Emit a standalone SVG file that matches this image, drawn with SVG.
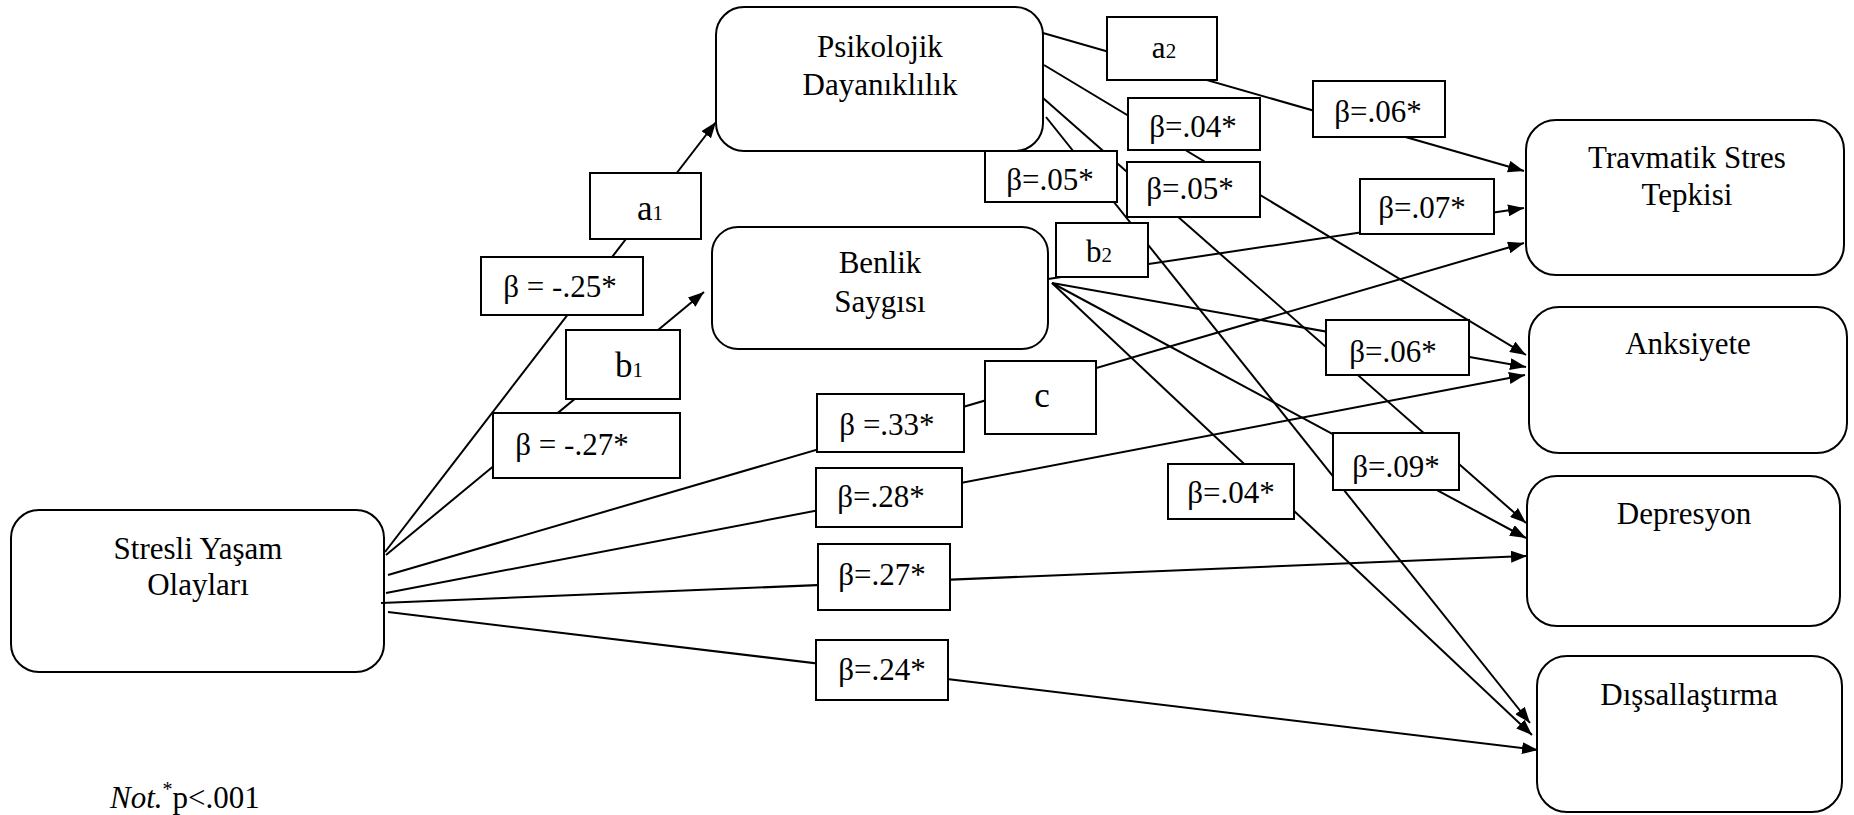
<svg xmlns="http://www.w3.org/2000/svg" width="1854" height="815" viewBox="0 0 1854 815">
<style>
  .node rect { fill: #fff; stroke: #000; stroke-width: 2; }
  .lbl rect { fill: #fff; stroke: #000; stroke-width: 2; }
  text { font-family: 'Liberation Serif', 'Times New Roman', Times, 'DejaVu Serif', serif; font-size: 31px; fill: #000; text-anchor: middle; }
  .big { font-size: 35px; }
  .sub { font-size: 21px; }
  #edges line { stroke: #000; stroke-width: 2; marker-end: url(#arr); }
</style>
<defs>
  <marker id="arr" markerUnits="userSpaceOnUse" markerWidth="16" markerHeight="12" refX="16" refY="6" orient="auto">
    <path d="M0,0 L16,6 L0,12 z" fill="#000"/>
  </marker>
</defs>

<rect width="1854" height="815" fill="#fff"/>

<!-- variables -->
<g id="stresli" class="node">
  <rect x="11" y="510" width="373" height="162" rx="28"/>
  <text x="198" y="559">Stresli Yaşam</text>
  <text x="198" y="595">Olayları</text>
</g>
<g id="psikolojik" class="node">
  <rect x="716" y="7" width="327" height="144" rx="28"/>
  <text x="880" y="57">Psikolojik</text>
  <text x="880" y="95">Dayanıklılık</text>
</g>
<g id="benlik" class="node">
  <rect x="712" y="227" width="336" height="122" rx="26"/>
  <text x="880" y="273">Benlik</text>
  <text x="880" y="312">Saygısı</text>
</g>
<g id="travmatik" class="node">
  <rect x="1526" y="120" width="318" height="155" rx="30"/>
  <text x="1687" y="168">Travmatik Stres</text>
  <text x="1687" y="205">Tepkisi</text>
</g>
<g id="anksiyete" class="node">
  <rect x="1529" y="307" width="318" height="146" rx="30"/>
  <text x="1688" y="354">Anksiyete</text>
</g>
<g id="depresyon" class="node">
  <rect x="1527" y="476" width="313" height="150" rx="30"/>
  <text x="1684" y="524">Depresyon</text>
</g>
<g id="dissallastirma" class="node">
  <rect x="1537" y="656" width="305" height="156" rx="30"/>
  <text x="1689" y="705">Dışsallaştırma</text>
</g>

<!-- paths -->
<g id="edges">
  <line x1="385" y1="552" x2="716" y2="122"/>
  <line x1="386" y1="555" x2="704" y2="292"/>
  <line x1="388" y1="575" x2="1524" y2="243"/>
  <line x1="386" y1="593" x2="1525" y2="375"/>
  <line x1="381" y1="603" x2="1527" y2="556"/>
  <line x1="388" y1="612" x2="1538" y2="750"/>
  <line x1="1043" y1="33" x2="1524" y2="171"/>
  <line x1="1044" y1="65" x2="1526" y2="355"/>
  <line x1="1043" y1="98" x2="1526" y2="523"/>
  <line x1="1046" y1="117" x2="1530" y2="723"/>
  <line x1="1048" y1="279" x2="1524" y2="208"/>
  <line x1="1052" y1="283" x2="1526" y2="367"/>
  <line x1="1052" y1="283" x2="1526" y2="538"/>
  <line x1="1052" y1="283" x2="1532" y2="735"/>
</g>

<!-- coefficient labels -->
<g id="labels" class="lbl">
  <g id="lbl-a1"><rect x="590" y="173" width="111" height="66"/><text class="big" x="650" y="220">a<tspan class="sub">1</tspan></text></g>
  <g id="lbl-a1-beta"><rect x="481" y="257" width="162" height="58"/><text x="560" y="297">β = -.25*</text></g>
  <g id="lbl-b1"><rect x="566" y="330" width="114" height="69"/><text class="big" x="629" y="377">b<tspan class="sub">1</tspan></text></g>
  <g id="lbl-b1-beta"><rect x="493" y="413" width="187" height="65"/><text x="572" y="455">β = -.27*</text></g>
  <g id="lbl-c-beta"><rect x="817" y="394" width="147" height="58"/><text x="887" y="435">β =.33*</text></g>
  <g id="lbl-c"><rect x="985" y="361" width="111" height="73"/><text class="big" x="1042" y="407">c</text></g>
  <g id="lbl-anks"><rect x="816" y="468" width="146" height="59"/><text x="881" y="507">β=.28*</text></g>
  <g id="lbl-dep"><rect x="818" y="544" width="132" height="66"/><text x="882" y="585">β=.27*</text></g>
  <g id="lbl-dis"><rect x="816" y="640" width="132" height="60"/><text x="882" y="680">β=.24*</text></g>
  <g id="lbl-a2"><rect x="1107" y="17" width="110" height="63"/><text x="1164" y="58">a<tspan class="sub">2</tspan></text></g>
  <g id="lbl-a2-beta"><rect x="1313" y="81" width="132" height="56"/><text x="1378" y="122">β=.06*</text></g>
  <g id="lbl-pd-anks"><rect x="1128" y="98" width="132" height="52"/><text x="1193" y="137">β=.04*</text></g>
  <g id="lbl-pd-dis"><rect x="985" y="151" width="132" height="51"/><text x="1050" y="190">β=.05*</text></g>
  <g id="lbl-pd-dep"><rect x="1127" y="162" width="133" height="55"/><text x="1190" y="199">β=.05*</text></g>
  <g id="lbl-b2"><rect x="1056" y="223" width="92" height="54"/><text x="1099" y="262">b<tspan class="sub">2</tspan></text></g>
  <g id="lbl-b2-beta"><rect x="1360" y="179" width="134" height="55"/><text x="1422" y="218">β=.07*</text></g>
  <g id="lbl-bs-anks"><rect x="1326" y="320" width="143" height="55"/><text x="1393" y="362">β=.06*</text></g>
  <g id="lbl-bs-dis"><rect x="1168" y="464" width="126" height="55"/><text x="1231" y="503">β=.04*</text></g>
  <g id="lbl-bs-dep"><rect x="1333" y="433" width="126" height="57"/><text x="1396" y="477">β=.09*</text></g>
</g>

<!-- note -->
<text id="note" x="110" y="808" style="text-anchor:start"><tspan font-style="italic">Not.</tspan><tspan font-size="20" dy="-12">*</tspan><tspan dy="12">p&lt;.001</tspan></text>
</svg>
